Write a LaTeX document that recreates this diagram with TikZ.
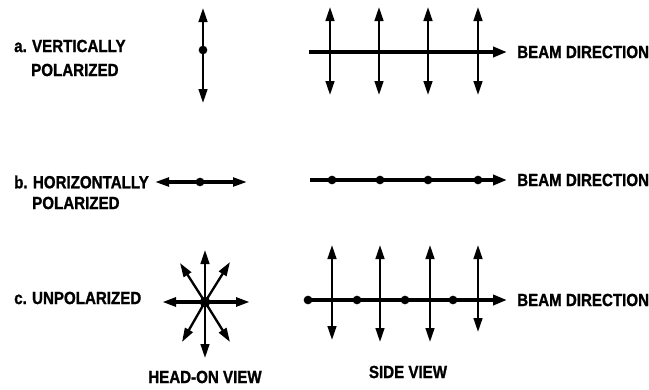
\documentclass[tikz,border=0pt]{standalone}
\usepackage{fontspec}
\setmainfont{Liberation Sans}
\newfontfamily\lblfont{Liberation Sans}[FakeStretch=0.86, BoldFeatures={FakeBold=1.2}]
\usetikzlibrary{arrows.meta}
\tikzset{
  lbl/.style={font=\lblfont\bfseries\fontsize{15}{17}\selectfont, inner sep=0pt},
  pol/.style={line width=2pt, {Triangle[length=4.2mm,width=2.6mm]}-{Triangle[length=4.2mm,width=2.6mm]}},
  beam/.style={line width=3.5pt, -{Triangle[length=4.2mm,width=3mm]}},
  dot/.style={circle, fill, inner sep=0pt, minimum size=2.6mm},
}

\begin{document}
\begin{tikzpicture}[x=0.03cm,y=-0.03cm]
\useasboundingbox (0,0) rectangle (649,389);
%% labels on the left
\node[lbl,anchor=west] (aone) at (14,46) {a.\hspace{0.3em}VERTICALLY};
\node[lbl,anchor=west] (atwo) at (31,70) {POLARIZED};
\node[lbl,anchor=west] (bone) at (14,182) {b.\hspace{0.3em}HORIZONTALLY};
\node[lbl,anchor=west] (btwo) at (32,203) {POLARIZED};
\node[lbl,anchor=west] (cone) at (14,298) {c.\hspace{0.3em}UNPOLARIZED};
\node[lbl] (headon) at (205,377) {HEAD-ON VIEW};
\node[lbl] (side) at (408,372) {SIDE VIEW};
\node[lbl,anchor=west] (abeam) at (517,52) {BEAM DIRECTION};
\node[lbl,anchor=west] (bbeam) at (517,180) {BEAM DIRECTION};
\node[lbl,anchor=west] (cbeam) at (517,300) {BEAM DIRECTION};

%% a. vertically polarized
\node[dot] (adot) at (203,50) {};
\coordinate (atop) at (203,8);
\coordinate (abot) at (203,103);
\draw[pol] (atop) -- (abot);
\coordinate (astart) at (309,52);
\draw[beam] (astart) -- ([xshift=-0.3cm]abeam.west);
\draw[pol] (330,7)--(330,95);
\draw[pol] (379,7)--(379,95);
\draw[pol] (428,7)--(428,95);
\draw[pol] (478,7)--(478,95);

%% b. horizontally polarized
\node[dot] (bdot) at (200,182) {};
\coordinate (bleft) at (155,182);
\coordinate (bright) at (247,182);
\draw[pol,line width=2.6pt] (bleft) -- (bright);
\coordinate (bstart) at (310,180);
\draw[beam,line width=3pt] (bstart) -- ([xshift=-0.3cm]bbeam.west);
\node[dot] (bd1) at (332,180) {};
\node[dot] (bd2) at (380,180) {};
\node[dot] (bd3) at (428,180) {};
\node[dot] (bd4) at (478,180) {};

%% c. unpolarized
\node[dot,minimum size=3.2mm] (cdot) at (205,302) {};
\draw[pol,-{Triangle[length=4.2mm,width=2.6mm]}] (cdot.center)--(205,250);
\draw[pol,-{Triangle[length=4.2mm,width=2.6mm]}] (cdot.center)--(205,358);
\draw[pol,-{Triangle[length=4.2mm,width=2.6mm]}] (cdot.center)--(180,263);
\draw[pol,-{Triangle[length=4.2mm,width=2.6mm]}] (cdot.center)--(230,262);
\draw[pol,-{Triangle[length=4.2mm,width=2.6mm]}] (cdot.center)--(182,342);
\draw[pol,-{Triangle[length=4.2mm,width=2.6mm]}] (cdot.center)--(230,342);
\draw[pol,line width=3pt] (162,302)--(250,302);
\node[dot] (cd1) at (308,300) {};
\node[dot] (cd2) at (357,300) {};
\node[dot] (cd3) at (405,300) {};
\node[dot] (cd4) at (453,300) {};
\draw[beam] (cd1.center) -- ([xshift=-0.3cm]cbeam.west);
\draw[pol] (332,245)--(332,340);
\draw[pol] (380,245)--(380,342);
\draw[pol] (430,245)--(430,342);
\draw[pol] (478,245)--(478,332);
\end{tikzpicture}
\end{document}
